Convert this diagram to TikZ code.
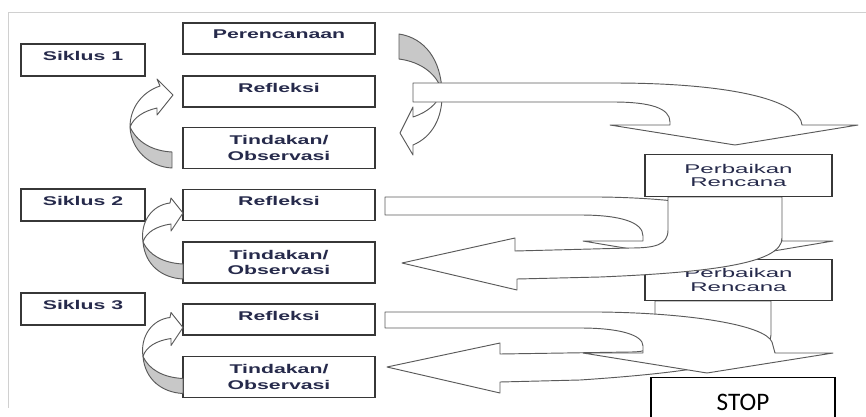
\documentclass[tikz,border=0pt]{standalone}
\usepackage{fontspec}
\newfontfamily\boxfont[FakeStretch=1.68]{Liberation Sans}
\newfontfamily\prfont[FakeStretch=1.9]{Liberation Sans}
\newfontfamily\stopfont{Carlito}
\definecolor{boxline}{RGB}{55,55,55}
\definecolor{arrline}{RGB}{90,90,90}
\definecolor{shadegray}{RGB}{200,200,200}
\definecolor{txt}{RGB}{38,42,75}
\definecolor{edgegray}{RGB}{208,208,208}

\begin{document}
\begin{tikzpicture}[x=0.03cm,y=-0.03cm,
  box/.style={draw=boxline,line width=1.1pt,fill=white,inner sep=0pt,text=txt,align=center,
    font=\boxfont\bfseries\fontsize{10.8}{13.6}\selectfont},
  cyclebox/.style={box,minimum width=3.72cm,minimum height=0.96cm,text depth=6.8pt},
  stagebox/.style={box,minimum width=5.76cm,minimum height=0.93cm,text depth=6.8pt},
  actbox/.style={box,minimum width=5.76cm,minimum height=1.23cm},
  revbox/.style={box,minimum width=5.61cm,minimum height=1.25cm,
    font=\prfont\fontsize{10.8}{11.9}\selectfont},
  stopbox/.style={draw=black,line width=1.2pt,fill=white,inner sep=0pt,minimum width=5.52cm,
    text height=28pt,text depth=6.8pt,font=\stopfont\fontsize{21.5}{26}\selectfont},
  blockarrow/.style={draw=arrline,fill=white,line width=0.8pt,line join=round},
  backside/.style={blockarrow,fill=shadegray},
  edgeline/.style={draw=edgegray,line width=0.8pt}]
\useasboundingbox (0,0) rectangle (866,416);
\clip (0,0) rectangle (866,416);
\draw[edgeline] (866,12) -- (8.5,12) -- (8.5,408);

\draw[backside] (399,34) .. controls (425,38) and (441,60) .. (442,92) .. controls (438,75) and (422,62) .. (399,59) -- cycle;
\draw[blockarrow] (442,92) .. controls (443,118) and (432,137) .. (413,145) -- (413,155) -- (400,133) -- (413,107) -- (413,117) .. controls (428,112) and (437,104) .. (442,92) -- cycle;
\draw[blockarrow] (413,83) -- (613,83) .. controls (730,83) and (800,100) .. (802,125) -- (858,125) -- (735,145) -- (610,125) -- (670,125) -- (670,122) .. controls (670,108) and (650,102) .. (613,102) -- (413,102) -- cycle;

\node[cyclebox] (s1) at (83,60) {Siklus 1};
\node[stagebox] (plan) at (279,38.5) {Perencanaan};
\node[stagebox] (refl1) at (279,91.5) {Refleksi};
\node[actbox] (act1) at (279,148) {Tindakan/\\Observasi};
\node[cyclebox] (s2) at (83,205) {Siklus 2};
\node[stagebox] (refl2) at (279,205) {Refleksi};
\node[actbox] (act2) at (279,262.5) {Tindakan/\\Observasi};
\node[cyclebox] (s3) at (83,309) {Siklus 3};
\node[stagebox] (refl3) at (279,319.5) {Refleksi};
\node[actbox] (act3) at (279,377) {Tindakan/\\Observasi};

\draw[blockarrow] (130,127) .. controls (130,108) and (142,92) .. (160,86) -- (157,79) -- (173,95) -- (157,115) -- (157,108) .. controls (144,111) and (134,117) .. (130,127) -- cycle;
\draw[backside] (130,127) .. controls (131,150) and (150,167) .. (172,168) -- (172,152) .. controls (152,151) and (137,142) .. (130,127) -- cycle;

\draw[blockarrow] (143,242) .. controls (140,222) and (152,205) .. (170,203) -- (171,198) -- (183,213) -- (171,231) -- (171,224) .. controls (157,226) and (146,232) .. (143,242) -- cycle;
\draw[backside] (143,242) .. controls (145,265) and (162,278) .. (183,279) -- (183,264) .. controls (163,263) and (149,255) .. (143,242) -- cycle;

\begin{scope}[shift={(0,114.5)}]
\draw[blockarrow] (143,242) .. controls (140,222) and (152,205) .. (170,203) -- (171,198) -- (183,213) -- (171,231) -- (171,224) .. controls (157,226) and (146,232) .. (143,242) -- cycle;
\draw[backside] (143,242) .. controls (145,265) and (162,278) .. (183,279) -- (183,264) .. controls (163,263) and (149,255) .. (143,242) -- cycle;
\end{scope}

\draw[blockarrow] (385,197) -- (600,197) .. controls (700,198) and (780,215) .. (782,241) -- (833,241) -- (708,262) -- (583,241) -- (643,241) -- (643,236) .. controls (643,222) and (620,215) .. (580,215) -- (385,215) -- cycle;
\draw[blockarrow] (655,301) -- (655,335) .. controls (655,348) and (648,352) .. (630,352) -- (500,354) -- (500,343) -- (387,367) -- (500,393) -- (500,382) -- (580,380) .. controls (700,372) and (771,360) .. (771,335) -- (771,301) -- cycle;
\draw[blockarrow] (385,312) -- (600,312) .. controls (690,313) and (765,325) .. (772,342) -- (775,353) -- (833,353) -- (707,373) -- (583,353) -- (643,353) -- (643,346) .. controls (643,335) and (620,328) .. (580,328) -- (385,328) -- cycle;

\node[revbox] (fix2) at (738.5,280) {Perbaikan\\Rencana};
\draw[blockarrow] (668,197) -- (668,230) .. controls (668,245) and (655,248) .. (630,248) -- (515,251) -- (515,238) -- (402,263) -- (517,290) -- (517,279) -- (600,277) .. controls (720,272) and (782,262) .. (782,238) -- (782,197) -- cycle;
\node[revbox] (fix1) at (738.5,175.5) {Perbaikan\\Rencana};

\node[stopbox,anchor=north] (stop) at (743,377) {STOP};
\end{tikzpicture}
\end{document}
